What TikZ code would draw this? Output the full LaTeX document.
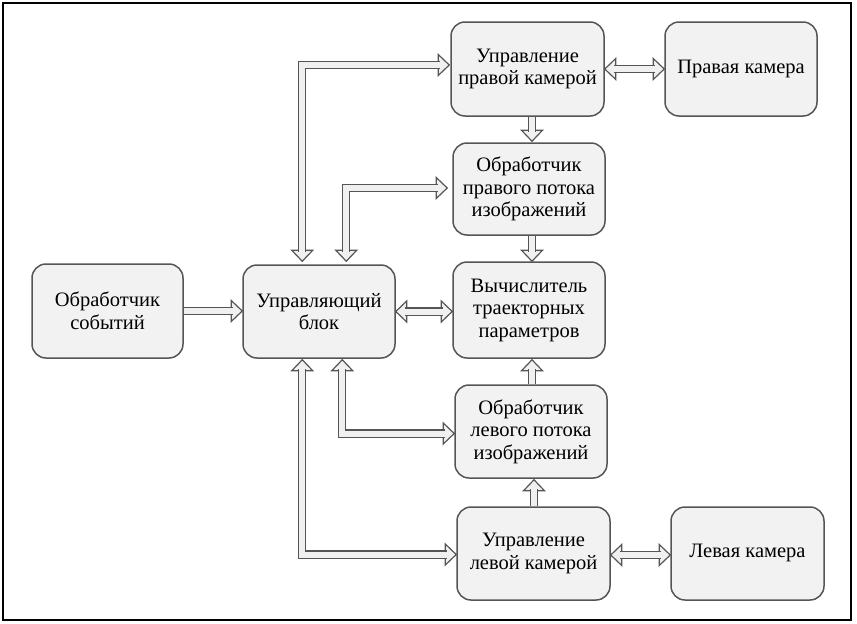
\documentclass[tikz,border=0pt]{standalone}
\usepackage{fontspec}
\setmainfont{Liberation Serif}
\newfontfamily\tnr{Liberation Serif}
\usetikzlibrary{calc}
\definecolor{boxfill}{HTML}{F2F2F2}
\definecolor{edgec}{HTML}{555555}
\definecolor{arrfill}{HTML}{F0F0F0}
\definecolor{txtc}{HTML}{000000}
\newcommand\ahead[3]{%
  \filldraw[headst] (#1) -- ++({-11*(#2)+10.5*(#3)},{-11*(#3)-10.5*(#2)}) -- ++({-21*(#3)},{21*(#2)}) -- cycle;}
\begin{document}
\begin{tikzpicture}[x=1pt,y=-1pt,
  box/.style={draw=edgec, fill=boxfill, line width=1.5pt, rounded corners=14pt,
    align=center, text=txtc, font=\fontsize{20.5}{22.5}\selectfont, inner sep=0pt},
  headst/.style={draw=edgec, fill=arrfill, line width=1.2pt, line join=miter},
  shaftst/.style={draw=edgec, line width=1.2pt, double=arrfill, double distance=6pt, line join=miter}]
\useasboundingbox (0,0) rectangle (857,624);
\draw[line width=1.5pt] (3,3) rectangle (851,620);

\node[box, minimum width=151pt, minimum height=94pt] (ev) at (107.5,311) {\tnr Обработчик\\\tnr событий};
\node[box, minimum width=152pt, minimum height=93pt] (ub) at (319,311.5) {\tnr Управляющий\\\tnr блок};
\node[box, minimum width=153pt, minimum height=94pt] (urc) at (527.5,69) {\tnr Управление\\\tnr правой камерой};
\node[box, minimum width=152pt, minimum height=94pt] (rc) at (741,69) {\tnr Правая камера};
\node[box, minimum width=152pt, minimum height=92pt] (orp) at (529,189) {\tnr Обработчик\\\tnr правого потока\\\tnr изображений};
\node[box, minimum width=152pt, minimum height=96pt] (vt) at (529,310) {\tnr Вычислитель\\\tnr траекторных\\\tnr параметров};
\node[box, minimum width=152pt, minimum height=93pt] (olp) at (531,431.5) {\tnr Обработчик\\\tnr левого потока\\\tnr изображений};
\node[box, minimum width=153pt, minimum height=93pt] (ulc) at (533.5,553.5) {\raisebox{5pt}{\tnr\begin{tabular}{@{}c@{}}Управление\\левой камерой\end{tabular}}};
\node[box, minimum width=153pt, minimum height=93pt] (lc) at (747.5,553.5) {\raisebox{5pt}{\tnr Левая камера}};

% 1
\coordinate (t1) at (ev.east -| ub.west);
\ahead{t1}{1}{0}
\draw[shaftst] (ev.east) -- ($(t1)+(-9.5,0)$);
% 2
\coordinate (t2a) at (ub.east);
\coordinate (t2b) at (ub.east -| vt.west);
\ahead{t2a}{-1}{0}
\ahead{t2b}{1}{0}
\draw[shaftst] ($(t2a)+(9.5,0)$) -- ($(t2b)+(-9.5,0)$);
% 3
\coordinate (p3) at ($(ub.north west)+(60,-3)$);
\coordinate (q3) at ($(urc.west)+(-1,-4)$);
\ahead{p3}{0}{1}
\ahead{q3}{1}{0}
\draw[shaftst] ($(p3)+(0,-9.5)$) -- (p3 |- q3) -- ($(q3)+(-9.5,0)$);
% 4
\coordinate (p4) at ($(ub.north west)+(104,-3)$);
\coordinate (q4) at ($(orp.west)+(-5,-1)$);
\ahead{p4}{0}{1}
\ahead{q4}{1}{0}
\draw[shaftst] ($(p4)+(0,-9.5)$) -- (p4 |- q4) -- ($(q4)+(-9.5,0)$);
% 5
\coordinate (p5) at ($(ub.south west)+(100,1)$);
\coordinate (q5) at ($(olp.west)+(0,2)$);
\ahead{p5}{0}{-1}
\ahead{q5}{1}{0}
\draw[shaftst] ($(p5)+(0,9.5)$) -- (p5 |- q5) -- ($(q5)+(-9.5,0)$);
% 6
\coordinate (p6) at ($(ub.south west)+(60,1)$);
\coordinate (q6) at ($(ulc.west)+(0,1)$);
\ahead{p6}{0}{-1}
\ahead{q6}{1}{0}
\draw[shaftst] ($(p6)+(0,9.5)$) -- (p6 |- q6) -- ($(q6)+(-9.5,0)$);
% 7
\coordinate (t7a) at (urc.east);
\coordinate (t7b) at (urc.east -| rc.west);
\ahead{t7a}{-1}{0}
\ahead{t7b}{1}{0}
\draw[shaftst] ($(t7a)+(9.5,0)$) -- ($(t7b)+(-9.5,0)$);
% 8
\coordinate (t8a) at ($(ulc.east)+(0,1.5)$);
\coordinate (t8b) at (t8a -| lc.west);
\ahead{t8a}{-1}{0}
\ahead{t8b}{1}{0}
\draw[shaftst] ($(t8a)+(9.5,0)$) -- ($(t8b)+(-9.5,0)$);
% 9
\coordinate (t9) at ($(orp.north)+(3,-1)$);
\ahead{t9}{0}{1}
\draw[shaftst] (t9 |- urc.south) -- ($(t9)+(0,-9.5)$);
% 10
\coordinate (t10) at ($(vt.north)+(3,0)$);
\ahead{t10}{0}{1}
\draw[shaftst] (t10 |- orp.south) -- ($(t10)+(0,-9.5)$);
% 11
\coordinate (t11) at ($(vt.south)+(3,1)$);
\ahead{t11}{0}{-1}
\draw[shaftst] (t11 |- olp.north) -- ($(t11)+(0,9.5)$);
% 12
\coordinate (t12) at ($(olp.south)+(3,1)$);
\ahead{t12}{0}{-1}
\draw[shaftst] (t12 |- ulc.north) -- ($(t12)+(0,9.5)$);
\end{tikzpicture}
\end{document}
